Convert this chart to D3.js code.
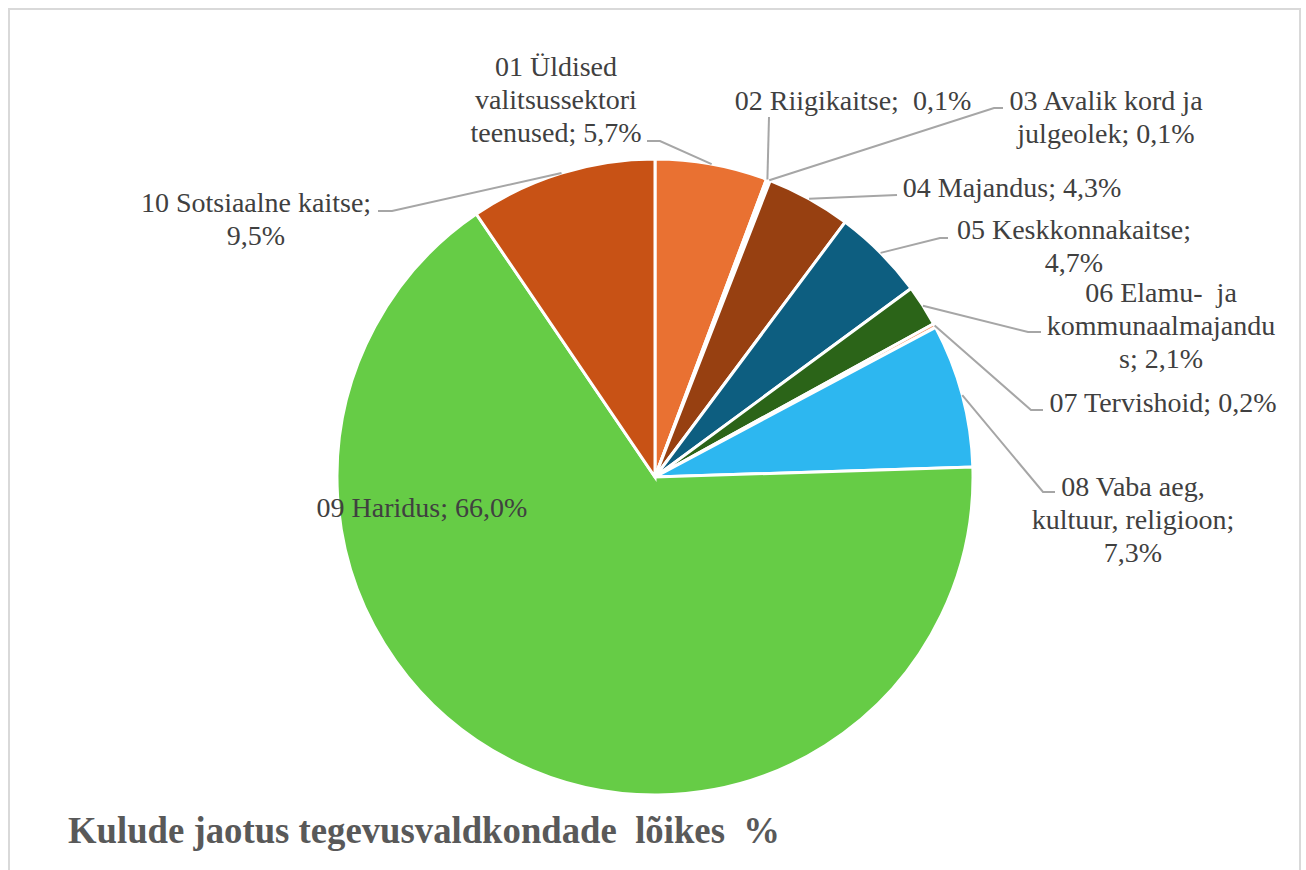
<!DOCTYPE html>
<html>
<head>
<meta charset="utf-8">
<script src="https://cdn.jsdelivr.net/npm/d3@7"></script>
</head>
<body style="margin:0">
<script>
// data
const categories = [
    "01 Üldised valitsussektori teenused",
    "02 Riigikaitse",
    "03 Avalik kord ja julgeolek",
    "04 Majandus",
    "05 Keskkonnakaitse",
    "06 Elamu- ja kommunaalmajandus",
    "07 Tervishoid",
    "08 Vaba aeg, kultuur, religioon",
    "09 Haridus",
    "10 Sotsiaalne kaitse"
];
const shares = [5.7, 0.1, 0.1, 4.3, 4.7, 2.1, 0.2, 7.3, 66.0, 9.5];
// label text as wrapped in the reference
const labelLines = [
    ["01 Üldised", "valitsussektori", "teenused; 5,7%"],
    ["02 Riigikaitse;\u00A0 0,1%"],
    ["03 Avalik kord ja", "julgeolek; 0,1%"],
    ["04 Majandus; 4,3%"],
    ["05 Keskkonnakaitse;", "4,7%"],
    ["06 Elamu-\u00A0 ja", "kommunaalmajandu", "s; 2,1%"],
    ["07 Tervishoid; 0,2%"],
    ["08 Vaba aeg,", "kultuur, religioon;", "7,3%"],
    ["09 Haridus; 66,0%"],
    ["10 Sotsiaalne kaitse;", "9,5%"]
];
const title = "Kulude jaotus tegevusvaldkondade\u00A0 lõikes\u00A0 %";

const colors = ['#E97132', '#FBF3EE', '#FBF3EE', '#974011', '#0D5E80', '#2B6418', '#F4A27C', '#2DB7F0', '#66CC46', '#C85215'];

// label placement: elbow of leader line, its end, text centre x and first line y
const labelLayout = [
    { elbow: [660, 141], end: [647, 141], tx: 556, ty: 66 },
    { elbow: [769, 117], end: [769, 117], tx: 853, ty: 100 },
    { elbow: [994, 108], end: [1003, 108], tx: 1106, ty: 100 },
    { elbow: [897, 195], end: [897, 195], tx: 1012, ty: 187 },
    { elbow: [940, 238], end: [948, 238], tx: 1074, ty: 229 },
    { elbow: [1028, 332], end: [1041, 332], tx: 1161, ty: 292 },
    { elbow: [1031, 410], end: [1043, 410], tx: 1163, ty: 402 },
    { elbow: [1043, 492], end: [1055, 492], tx: 1133, ty: 486 },
    { elbow: null, end: null, tx: 422, ty: 507 },
    { elbow: [392, 211], end: [378, 211], tx: 256, ty: 202 }
];

const fontFamily = '"Liberation Serif"';
const width = 1306;
const height = 870;
const cx = 655, cy = 477;
const radius = 318;
const lineHeight = 33;

const svg = d3.select("body")
    .append("svg")
    .attr("width", width)
    .attr("height", height);

// chart frame
svg.append("rect")
    .attr("x", 9).attr("y", 9)
    .attr("width", 1291).attr("height", 880)
    .attr("fill", "none")
    .attr("stroke", "#d9d9d9")
    .attr("stroke-width", 2);

const pieData = categories.map((c, i) => ({ name: c, value: shares[i], idx: i }));

const pie = d3.pie()
    .sort(null)
    .value(d => d.value);

const arcs = pie(pieData);

const arcGenerator = d3.arc()
    .innerRadius(0)
    .outerRadius(radius);

const g = svg.append("g")
    .attr("transform", `translate(${cx}, ${cy})`);

g.selectAll("path.slice")
    .data(arcs)
    .join("path")
    .attr("class", "slice")
    .attr("d", arcGenerator)
    .attr("fill", d => colors[d.data.idx])
    .attr("stroke", "white")
    .style("stroke-width", "3px");

// leader lines from the middle of each slice edge
const edgePoint = d => {
    const a = (d.startAngle + d.endAngle) / 2;
    return [cx + radius * Math.sin(a), cy - radius * Math.cos(a)];
};

svg.append("g")
    .selectAll("polyline")
    .data(arcs.filter(d => labelLayout[d.data.idx].elbow))
    .join("polyline")
    .attr("points", d => {
        const l = labelLayout[d.data.idx];
        return [edgePoint(d), l.elbow, l.end].map(p => p.join(",")).join(" ");
    })
    .attr("fill", "none")
    .attr("stroke", "#a6a6a6")
    .attr("stroke-width", 2);

// labels, one text element per wrapped line
arcs.forEach(d => {
    const l = labelLayout[d.data.idx];
    labelLines[d.data.idx].forEach((t, j) => {
        svg.append("text")
            .attr("x", l.tx)
            .attr("y", l.ty + j * lineHeight + 10)
            .attr("text-anchor", "middle")
            .attr("font-size", 28)
            .style("font-family", fontFamily)
            .style("fill", "#404040")
            .text(t);
    });
});

// title
svg.append("text")
    .attr("x", 68)
    .attr("y", 843)
    .attr("font-size", 37)
    .attr("font-weight", "bold")
    .attr("textLength", 712)
    .attr("lengthAdjust", "spacingAndGlyphs")
    .style("font-family", fontFamily)
    .style("fill", "#595959")
    .text(title);
</script>
</body>
</html>
